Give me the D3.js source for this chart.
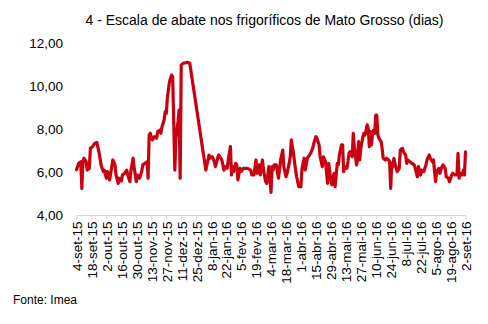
<!DOCTYPE html>
<html><head><meta charset="utf-8">
<script src="https://cdn.jsdelivr.net/npm/d3@7"></script>
<style>body{margin:0;background:#fff}svg{display:block}text{font-family:"Liberation Sans",Arial,sans-serif;fill:#000}</style>
</head><body><svg id="c" width="488" height="324"></svg>
<script>
const title = "4 - Escala de abate nos frigoríficos de Mato Grosso (dias)";
const source = "Fonte: Imea";
const yTicks = [4, 6, 8, 10, 12];
const xTickLabels = ["4-set-15","18-set-15","2-out-15","16-out-15","30-out-15","13-nov-15","27-nov-15","11-dez-15","25-dez-15","8-jan-16","22-jan-16","5-fev-16","19-fev-16","4-mar-16","18-mar-16","1-abr-16","15-abr-16","29-abr-16","13-mai-16","27-mai-16","10-jun-16","24-jun-16","8-jul-16","22-jul-16","5-ago-16","19-ago-16","2-set-16"];
const xTickDates = ["2015-09-04","2015-09-18","2015-10-02","2015-10-16","2015-10-30","2015-11-13","2015-11-27","2015-12-11","2015-12-25","2016-01-08","2016-01-22","2016-02-05","2016-02-19","2016-03-04","2016-03-18","2016-04-01","2016-04-15","2016-04-29","2016-05-13","2016-05-27","2016-06-10","2016-06-24","2016-07-08","2016-07-22","2016-08-05","2016-08-19","2016-09-02"];
const dates = ["2015-09-04","2015-09-06","2015-09-08","2015-09-09","2015-09-10","2015-09-11","2015-09-13","2015-09-14","2015-09-16","2015-09-17","2015-09-19","2015-09-21","2015-09-23","2015-09-25","2015-09-27","2015-09-29","2015-09-30",
"2015-10-02","2015-10-03","2015-10-05","2015-10-08","2015-10-10","2015-10-11","2015-10-13","2015-10-14","2015-10-16","2015-10-17","2015-10-19","2015-10-21","2015-10-22","2015-10-24","2015-10-25","2015-10-27","2015-10-28","2015-10-30","2015-10-31",
"2015-11-02","2015-11-04","2015-11-05","2015-11-07","2015-11-09","2015-11-10","2015-11-11","2015-11-12","2015-11-14","2015-11-16","2015-11-18","2015-11-19","2015-11-21","2015-11-22","2015-11-23","2015-11-24","2015-11-25","2015-11-26","2015-11-27","2015-11-28","2015-11-30",
"2015-12-02","2015-12-03","2015-12-05","2015-12-06","2015-12-08","2015-12-09","2015-12-10","2015-12-11","2015-12-13","2015-12-17","2015-12-19",
"2016-01-03","2016-01-06","2016-01-07","2016-01-09","2016-01-11","2016-01-12","2016-01-14","2016-01-15","2016-01-17","2016-01-18","2016-01-20","2016-01-21","2016-01-23","2016-01-24","2016-01-26","2016-01-27","2016-01-28","2016-01-29","2016-01-31",
"2016-02-01","2016-02-02","2016-02-04","2016-02-05","2016-02-07","2016-02-09","2016-02-11","2016-02-14","2016-02-15","2016-02-17","2016-02-19","2016-02-20","2016-02-22","2016-02-23","2016-02-25","2016-02-26","2016-02-28","2016-02-29",
"2016-03-02","2016-03-04","2016-03-05","2016-03-06","2016-03-07","2016-03-09","2016-03-11","2016-03-13","2016-03-15","2016-03-16","2016-03-18","2016-03-19","2016-03-21","2016-03-22","2016-03-23","2016-03-25","2016-03-27","2016-03-28","2016-03-30",
"2016-04-01","2016-04-02","2016-04-04","2016-04-05","2016-04-07","2016-04-09","2016-04-10","2016-04-12","2016-04-13","2016-04-15","2016-04-16","2016-04-18","2016-04-19","2016-04-21","2016-04-22","2016-04-24","2016-04-26","2016-04-27","2016-04-29","2016-04-30",
"2016-05-02","2016-05-03","2016-05-05","2016-05-06","2016-05-07","2016-05-09","2016-05-10","2016-05-11","2016-05-12","2016-05-14","2016-05-15","2016-05-16","2016-05-17","2016-05-19","2016-05-20","2016-05-21","2016-05-22","2016-05-23","2016-05-24","2016-05-25","2016-05-26","2016-05-27","2016-05-29","2016-05-30","2016-05-31",
"2016-06-01","2016-06-02","2016-06-03","2016-06-04","2016-06-05","2016-06-06","2016-06-07","2016-06-08","2016-06-09","2016-06-10","2016-06-11","2016-06-12","2016-06-13","2016-06-15","2016-06-16","2016-06-17","2016-06-19","2016-06-20","2016-06-22","2016-06-23","2016-06-24","2016-06-25","2016-06-26","2016-06-27","2016-06-28","2016-06-30",
"2016-07-01","2016-07-02","2016-07-03","2016-07-05","2016-07-06","2016-07-08","2016-07-09","2016-07-10","2016-07-12","2016-07-14","2016-07-16","2016-07-17","2016-07-19","2016-07-20","2016-07-22","2016-07-23","2016-07-25","2016-07-27","2016-07-28","2016-07-30","2016-07-31",
"2016-08-02","2016-08-03","2016-08-05","2016-08-06","2016-08-08","2016-08-09","2016-08-11","2016-08-12","2016-08-14","2016-08-15","2016-08-17","2016-08-18","2016-08-20","2016-08-21","2016-08-23","2016-08-25","2016-08-26","2016-08-27","2016-08-28","2016-08-29","2016-08-30","2016-08-31",
"2016-09-01","2016-09-02"];
const values = [6.10,6.40,6.48,5.24,6.48,6.64,6.48,6.09,6.17,7.10,7.18,7.33,7.38,6.94,6.33,6.02,6.09,
5.71,6.02,5.63,6.56,6.33,5.86,5.47,5.71,5.58,5.86,5.94,6.09,5.86,5.55,6.09,6.64,6.17,5.55,5.86,
5.71,6.02,6.33,6.40,6.48,5.71,7.72,7.80,7.49,7.64,7.57,7.88,7.95,7.80,8.11,8.26,8.42,8.81,8.73,9.43,10.20,
10.51,10.43,6.09,7.57,8.34,8.88,5.71,10.98,11.06,11.10,11.06,
6.09,6.79,6.64,6.71,6.48,6.25,6.64,6.79,6.64,6.56,6.09,6.25,6.17,6.56,7.18,5.86,6.25,6.02,6.40,
6.33,5.63,6.17,6.02,6.17,6.17,6.17,6.09,5.86,5.86,6.56,5.94,6.33,5.86,6.56,6.09,5.55,5.47,
6.25,5.05,6.25,6.09,6.33,6.33,5.71,6.56,7.02,6.25,5.78,5.94,6.40,6.71,7.49,6.87,6.09,5.78,5.32,
5.32,6.17,6.64,6.09,6.64,6.79,6.87,7.10,7.33,7.64,7.57,7.26,6.71,6.25,6.71,6.48,5.47,6.40,5.63,5.40,
5.94,5.32,6.40,6.33,6.79,7.26,7.26,6.02,6.25,6.17,6.48,6.87,6.94,6.71,7.80,7.18,6.79,6.33,6.56,7.41,6.56,7.10,7.64,7.80,7.72,
7.95,8.19,8.03,7.18,7.88,7.26,7.80,7.95,7.80,8.65,8.65,7.72,7.57,7.41,7.10,6.64,6.56,6.64,6.56,6.48,5.24,6.40,6.25,6.64,6.40,6.02,
6.09,6.17,7.02,7.10,6.94,6.79,6.40,6.56,6.48,6.40,6.33,6.17,5.78,6.25,5.86,6.09,6.02,6.33,6.56,6.79,6.64,
6.48,6.56,5.55,6.02,6.17,5.94,6.25,6.33,6.17,5.78,5.71,5.55,5.86,5.94,5.86,5.86,6.87,5.71,5.94,5.86,5.86,6.09,
5.86,6.94];

const parse = d3.utcParse("%Y-%m-%d");
const data = dates.map((d, i) => ({date: parse(d), value: values[i]}));
const svg = d3.select("#c");
const x = d3.scaleUtc().domain([parse(xTickDates[0]), parse(xTickDates[xTickDates.length - 1])]).range([76.5, 465.5]);
const y = d3.scaleLinear().domain([4, 12]).range([215, 43]);

svg.append("text").attr("x", 264.5).attr("y", 25).attr("text-anchor", "middle").style("font-size", "14px").text(title);

const yg = svg.append("g").attr("transform", "translate(63,0)")
  .call(d3.axisLeft(y).tickValues(yTicks).tickSize(0).tickPadding(0).tickFormat(d => d3.format(".2f")(d).replace(".", ",")));
yg.select(".domain").remove();
yg.selectAll("text").style("font-size", "13.5px").style("font-family", "'Liberation Sans',Arial,sans-serif").attr("fill", "#000");

const xg = svg.append("g").attr("transform", "translate(0,215.5)")
  .call(d3.axisBottom(x).tickValues(xTickDates.map(parse)).tickSize(4).tickPadding(3).tickFormat((d, i) => xTickLabels[i]));
xg.select(".domain").attr("stroke", "#d4d4d4").attr("d", `M${x.range()[0]},0H${x.range()[1]}`);
xg.selectAll(".tick line").attr("stroke", "#d4d4d4");
xg.selectAll("text").style("font-size", "13.5px").style("font-family", "'Liberation Sans',Arial,sans-serif").attr("fill", "#000")
  .attr("text-anchor", "end").attr("transform", "rotate(-90)").attr("x", -6).attr("y", 0).attr("dy", "0.36em");

const line = d3.line().x(d => x(d.date)).y(d => y(d.value));
svg.append("path").datum(data).attr("d", line).attr("fill", "none").attr("stroke", "#c8000f").attr("stroke-width", 3.2).attr("stroke-linejoin", "round").attr("stroke-linecap", "round");

svg.append("text").attr("x", 13).attr("y", 304).style("font-size", "12px").text(source);
</script></body></html>
